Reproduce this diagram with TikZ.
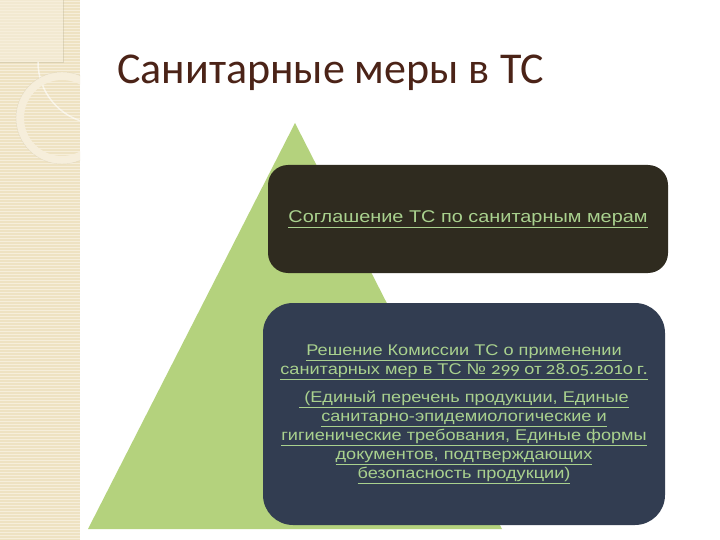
\documentclass[tikz,border=0pt]{standalone}
\usepackage{fontspec}
\setmainfont{Liberation Sans}
\newfontfamily\titlefont{Carlito}
\newfontfamily\boxfont[FakeStretch=1.17]{Liberation Sans}
\newfontfamily\numfont[Numbers=OldStyle,FakeStretch=1.12]{Carlito}
\newcommand\uln[1]{\underline{#1}}
\definecolor{stripbg}{HTML}{EEE2C2}
\definecolor{stripline}{HTML}{F6EEDB}
\definecolor{titlebrown}{HTML}{4B2317}
\definecolor{pyrgreen}{HTML}{B4D27D}
\definecolor{topbox}{HTML}{2F2B1F}
\definecolor{lowbox}{HTML}{323D51}
\definecolor{textgreen}{HTML}{A9D18E}

\begin{document}
\begin{tikzpicture}[x=1pt, y=-1pt,
    level/.style={rounded corners=#1, text=textgreen, align=center},
    level/.default=20pt]
        \useasboundingbox (0,0) rectangle (720,540);
        \fill[white] (0,0) rectangle (720,540);
        % left strip
        \fill[stripbg] (0,0) rectangle (80,540);
        \foreach \y in {1.5,4.5,...,540} {
          \draw[stripline,line width=0.8pt] (0,\y) -- (80,\y);
        }
        \fill[stripline,opacity=0.6] (0,0) rectangle (63,62);
        \draw[stripbg!80!black,opacity=0.4,thin] (0,62) -- (63,62) -- (63,0);
        \draw[white,opacity=0.6,line width=1.5pt] (38,62) arc[start angle=180,end angle=100,radius=62];
        \begin{scope}
          \clip (0,0) rectangle (80,540);
          \draw[stripline,line width=8pt] (62,118) circle[radius=42];
          \draw[stripbg!85!black,opacity=0.35,thin] (62,118) circle[radius=46];
        \end{scope}
        % title
        \node[anchor=base west, inner sep=0pt, text=titlebrown, font=\titlefont\fontsize{44}{44}\selectfont] (title) at (117,84) {Санитарные меры в ТС};
        % pyramid
        \fill[pyrgreen] (295,123) -- (88,529) -- (502,529) -- cycle;
        \node[level=20pt, fill=topbox, minimum width=400pt, minimum height=108pt,
              font=\boxfont\fontsize{17}{20}\selectfont] (agreement) at (468,219)
          {\uln{Соглашение ТС по санитарным мерам}};
        \node[level=30pt, fill=lowbox, minimum width=402pt, minimum height=222pt,
              font=\boxfont\fontsize{15.5}{19}\selectfont] (decision) at (464,414)
          {\uln{Решение Комиссии ТС о применении}\\
           \uln{санитарных мер в ТС № {\numfont\fontsize{17}{19}\selectfont 299 от 28.05.2010 г.}}\\[9pt]
           \uln{ (Единый перечень продукции,  Единые}\\
           \uln{санитарно-эпидемиологические и}\\
           \uln{гигиенические требования, Единые формы}\\
           \uln{документов, подтверждающих}\\
           \uln{безопасность продукции)}};
      \end{tikzpicture}
\end{document}
